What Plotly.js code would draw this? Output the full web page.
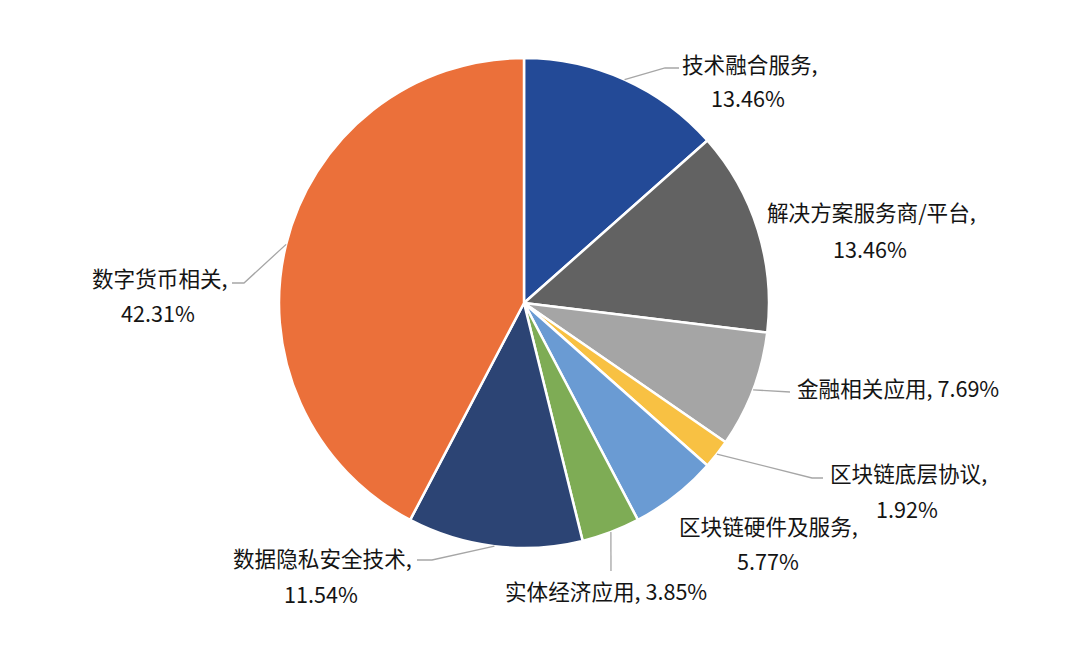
<!DOCTYPE html>
<html>
<head>
<meta charset="utf-8">
<script src="https://cdn.plot.ly/plotly-3.0.1.min.js"></script>
<style>
  html, body { margin: 0; padding: 0; background: #fff; }
  #chart { width: 1080px; height: 663px; }
</style>
</head>
<body>
<div id="chart"></div>
<script>
// slice data, clockwise from 12 o'clock
const categories = ["技术融合服务", "解决方案服务商/平台", "金融相关应用", "区块链底层协议",
                    "区块链硬件及服务", "实体经济应用", "数据隐私安全技术", "数字货币相关"];
const counts = [7, 7, 4, 1, 3, 2, 6, 22];
const colors = ["#234A97", "#626262", "#A5A5A5", "#F8C143", "#6A9BD3", "#7EAC55", "#2C4474", "#EB703A"];

// pie geometry in pixels
const W = 1080, H = 663;
const cx = 524, cy = 303, R = 245;

// label placement (pixels): name line, percent line (null = same line), leader elbow/end
const labelPos = [
  { name: [750, 63],  pct: [748, 97],  leader: [[665, 68], [679, 68]] },
  { name: [871, 212], pct: [870, 248], leader: null },
  { name: [898, 387], pct: null,       leader: [[790, 392], [790, 392]] },
  { name: [908, 472], pct: [907, 508], leader: [[812, 478], [823, 478]] },
  { name: [768, 525], pct: [768, 560], leader: null },
  { name: [606, 590], pct: null,       leader: [[611, 571], [611, 571]] },
  { name: [322, 557], pct: [321, 593], leader: [[432, 560], [417, 560]] },
  { name: [160, 277], pct: [158, 312], leader: [[244, 283], [232, 283]] }
];

const px = x => x / W;
const py = y => 1 - y / H;

const total = counts.reduce((a, b) => a + b, 0);
const pcts = counts.map(c => (c / total * 100).toFixed(2) + "%");

const font = { family: "Noto Sans CJK SC, Noto Sans, sans-serif", size: 21.6, color: "#141414" };

const annotations = [];
const shapes = [];
let acc = 0;
counts.forEach((c, i) => {
  const mid = (acc + c / 2) / total * 2 * Math.PI;
  acc += c;
  const lp = labelPos[i];
  if (lp.pct) {
    annotations.push({ x: px(lp.name[0]), y: py(lp.name[1]), text: categories[i] + ",", font: font });
    annotations.push({ x: px(lp.pct[0]), y: py(lp.pct[1]), text: pcts[i], font: font });
  } else {
    annotations.push({ x: px(lp.name[0]), y: py(lp.name[1]), text: categories[i] + ", " + pcts[i], font: font });
  }
  if (lp.leader) {
    const tx = cx + R * Math.sin(mid);
    const ty = cy - R * Math.cos(mid);
    const [e, f] = lp.leader;
    shapes.push({
      type: "path", xref: "paper", yref: "paper",
      path: `M ${px(tx)} ${py(ty)} L ${px(e[0])} ${py(e[1])} L ${px(f[0])} ${py(f[1])}`,
      line: { color: "#A6A6A6", width: 1.3 }
    });
  }
});
annotations.forEach(a => {
  a.xref = "paper"; a.yref = "paper"; a.showarrow = false;
  a.xanchor = "center"; a.yanchor = "middle";
});

Plotly.newPlot("chart", [{
  type: "pie",
  labels: categories,
  values: counts,
  sort: false,
  direction: "clockwise",
  rotation: 0,
  textinfo: "none",
  hoverinfo: "label+percent",
  marker: { colors: colors, line: { color: "#ffffff", width: 2.5 } },
  domain: { x: [px(cx - R), px(cx + R)], y: [py(cy + R), py(cy - R)] }
}], {
  width: W,
  height: H,
  margin: { l: 0, r: 0, t: 0, b: 0 },
  paper_bgcolor: "#ffffff",
  showlegend: false,
  annotations: annotations,
  shapes: shapes
}, { displayModeBar: false, staticPlot: true });
</script>
</body>
</html>
